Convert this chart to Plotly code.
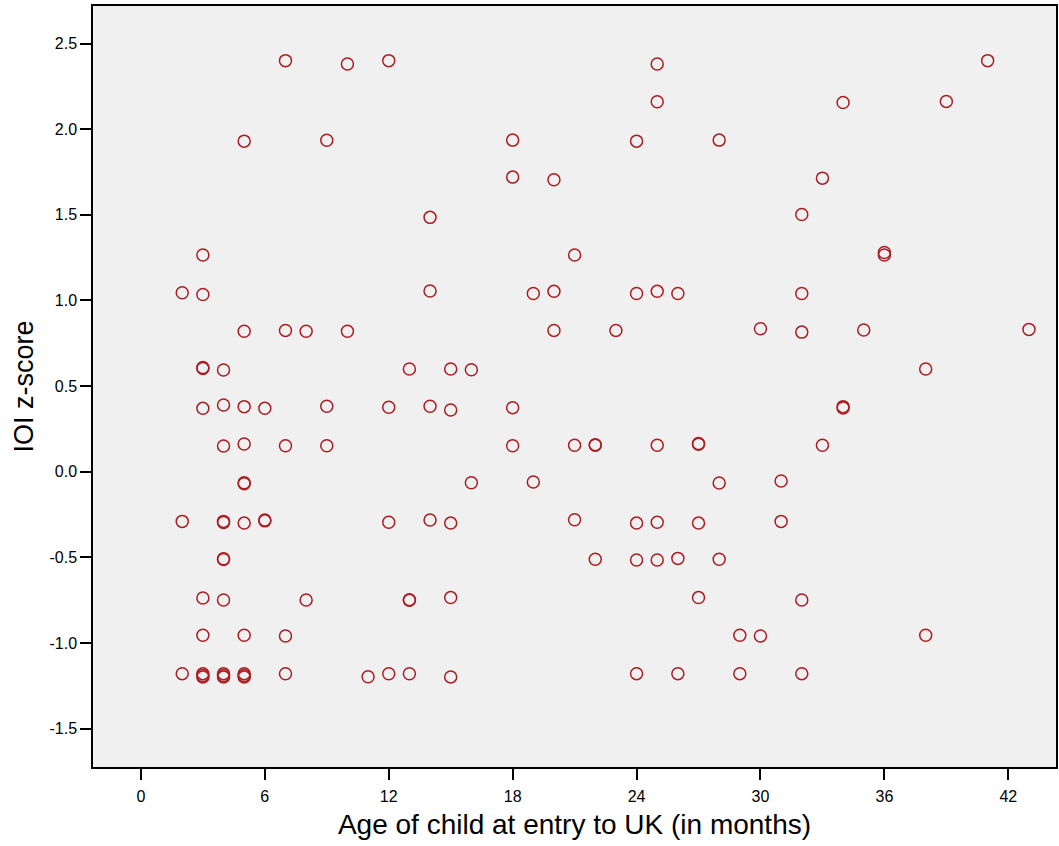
import plotly.graph_objects as go

# Age at entry to the UK (months) and IOI z-score for each child
age_months = [
    7, 12, 41, 10, 25,
    25, 34, 39,
    5, 9, 18, 24, 28,
    18, 20, 33,
    14, 32,
    3, 21, 36, 36,
    2, 3, 14, 19, 20, 24, 25, 26, 32,
    5, 7, 8, 10, 20, 23, 30, 32, 35, 43,
    3, 3, 4, 13, 15, 16, 38,
    3, 4, 5, 6, 9, 12, 14, 15, 18, 34, 34,
    4, 5, 7, 9, 18, 21, 22, 22, 25, 27, 27, 33,
    5, 5, 16, 19, 28, 31,
    2, 4, 4, 5, 6, 6, 12, 14, 15, 21, 24, 25, 27, 31,
    4, 4, 22, 24, 25, 26, 28,
    3, 4, 8, 13, 13, 15, 27, 32,
    3, 5, 7, 29, 30, 38,
    2, 3, 3, 3, 4, 4, 4, 5, 5, 5, 7, 11, 12, 13, 15, 24, 26, 29, 32,
]
ioi_z = [
    2.40, 2.40, 2.40, 2.38, 2.38,
    2.16, 2.156, 2.162,
    1.93, 1.935, 1.936, 1.93, 1.936,
    1.72, 1.705, 1.714,
    1.485, 1.502,
    1.265, 1.265, 1.265, 1.28,
    1.045, 1.035, 1.055, 1.04, 1.053, 1.04, 1.053, 1.04, 1.04,
    0.82, 0.825, 0.82, 0.82, 0.825, 0.825, 0.835, 0.815, 0.827, 0.831,
    0.603, 0.608, 0.594, 0.60, 0.60, 0.595, 0.60,
    0.37, 0.389, 0.38, 0.37, 0.382, 0.376, 0.382, 0.36, 0.374, 0.38, 0.372,
    0.150, 0.162, 0.152, 0.152, 0.152, 0.154, 0.154, 0.158, 0.154, 0.16, 0.165, 0.154,
    -0.065, -0.07, -0.064, -0.06, -0.066, -0.054,
    -0.29, -0.29, -0.297, -0.30, -0.282, -0.287, -0.295, -0.282, -0.30, -0.28, -0.30, -0.295, -0.30, -0.29,
    -0.508, -0.513, -0.511, -0.515, -0.515, -0.506, -0.511,
    -0.737, -0.749, -0.749, -0.747, -0.751, -0.735, -0.735, -0.749,
    -0.955, -0.955, -0.959, -0.955, -0.959, -0.955,
    -1.179, -1.179, -1.19, -1.198, -1.179, -1.19, -1.198, -1.179, -1.19, -1.198,
    -1.18, -1.197, -1.18, -1.18, -1.198, -1.179, -1.179, -1.179, -1.179,
]

x_ticks = [0, 6, 12, 18, 24, 30, 36, 42]
y_ticks = [-1.5, -1.0, -0.5, 0.0, 0.5, 1.0, 1.5, 2.0, 2.5]

FONT = "Liberation Sans, Arial, Helvetica, sans-serif"

fig = go.Figure(
    go.Scatter(
        x=age_months,
        y=ioi_z,
        mode="markers",
        marker=dict(
            symbol="circle-open",
            size=12,
            color="#ab1d22",
            line=dict(width=1.5, color="#ab1d22"),
        ),
        hoverinfo="x+y",
    )
)

axis_common = dict(
    showgrid=False,
    zeroline=False,
    showline=True,
    linecolor="black",
    linewidth=1.5,
    mirror=True,
    ticks="outside",
    ticklen=11,
    tickwidth=2,
    tickcolor="black",
    tickfont=dict(family=FONT, size=16, color="black"),
)

fig.update_xaxes(
    **axis_common,
    range=[-2.32, 44.31],
    tickvals=x_ticks,
    ticktext=[str(v) for v in x_ticks],
    ticklabelstandoff=3,
    title=dict(
        text="Age of child at entry to UK (in months)",
        font=dict(family=FONT, size=28, color="black"),
        standoff=10,
    ),
)
fig.update_yaxes(
    **axis_common,
    range=[-1.724, 2.719],
    tickvals=y_ticks,
    ticktext=[f"{v:.1f}" for v in y_ticks],
    title=dict(
        text="IOI z-score",
        font=dict(family=FONT, size=27, color="black"),
        standoff=8,
    ),
)

fig.update_layout(
    width=1059,
    height=846,
    margin=dict(l=93, r=1, t=6, b=79),
    plot_bgcolor="#f0f0f0",
    paper_bgcolor="white",
    showlegend=False,
)

fig.write_html("out.html")
